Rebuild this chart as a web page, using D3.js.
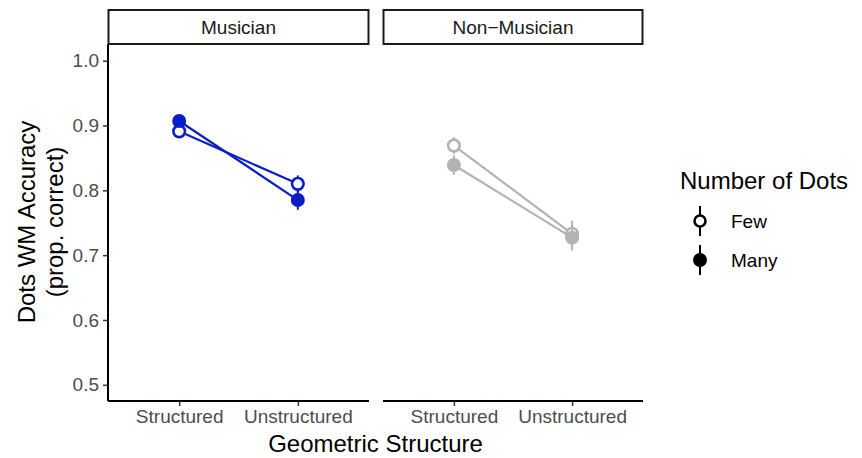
<!DOCTYPE html>
<html>
<head>
<meta charset="utf-8">
<script src="https://cdn.jsdelivr.net/npm/d3@7"></script>
<style>
  body { margin: 0; background: #fff; }
  text { font-family: "Liberation Sans", Arial, sans-serif; }
</style>
</head>
<body>
<script>
// data
var groups = ["Musician", "Non\u2212Musician"];
var structures = ["Structured", "Unstructured"];
var dotLevels = ["Few", "Many"];
var groupColors = ["#0a1ec8", "#b3b3b3"];
// means [group][structure]
var meanFew = [[0.891, 0.810], [0.869, 0.733]];
var meanMany = [[0.907, 0.785], [0.839, 0.727]];
var errFew = [[0.007, 0.013], [0.013, 0.020]];
var errMany = [[0.007, 0.015], [0.015, 0.020]];
var yTicks = [0.5, 0.6, 0.7, 0.8, 0.9, 1.0];

var W = 862, H = 458;
var svg = d3.select("body").append("svg").attr("width", W).attr("height", H);

var panels = [{x0: 108, x1: 369}, {x0: 383, x1: 643}],
    panelTop = 44, panelBottom = 401;

var y = d3.scaleLinear().domain([0.475, 1.025]).range([panelBottom, panelTop + 0.5]);

panels.forEach(function(p, gi) {
    var x = d3.scalePoint().domain(structures).range([p.x0, p.x1]).padding(0.6);
    var g = svg.append("g");

    // strip
    g.append("rect").attr("x", p.x0 + 0.5).attr("y", 10).attr("width", p.x1 - p.x0 - 1).attr("height", panelTop - 10)
        .attr("fill", "#fff").attr("stroke", "#1a1a1a").attr("stroke-width", 2);
    g.append("text").attr("x", (p.x0 + p.x1) / 2).attr("y", 34).attr("text-anchor", "middle")
        .attr("font-size", 19).attr("fill", "#1a1a1a").text(groups[gi]);

    // x axis
    var xa = g.append("g").attr("transform", "translate(0," + panelBottom + ")")
        .call(d3.axisBottom(x).tickSizeOuter(0).tickSize(5).tickPadding(4));
    xa.select(".domain").attr("d", "M" + p.x0 + ",0H" + p.x1).attr("stroke", "#000").attr("stroke-width", 2);
    xa.selectAll(".tick line").attr("stroke", "#333").attr("stroke-width", 1.5);
    xa.selectAll(".tick text").attr("font-size", 19).attr("fill", "#4d4d4d")
        .attr("font-family", "Liberation Sans, Arial, sans-serif");

    if (gi === 0) {
        var ya = g.append("g").attr("transform", "translate(" + p.x0 + ",0)")
            .call(d3.axisLeft(y).tickValues(yTicks).tickFormat(d3.format(".1f")).tickSize(5).tickSizeOuter(0).tickPadding(4));
        ya.select(".domain").attr("d", "M0," + panelTop + "V" + panelBottom).attr("stroke", "#000").attr("stroke-width", 2);
        ya.selectAll(".tick line").attr("stroke", "#333").attr("stroke-width", 1.5);
        ya.selectAll(".tick text").attr("font-size", 19).attr("fill", "#4d4d4d")
            .attr("font-family", "Liberation Sans, Arial, sans-serif");
    }

    var col = groupColors[gi];
    var series = [
        {name: "Few", mean: meanFew[gi], err: errFew[gi], fill: "#fff"},
        {name: "Many", mean: meanMany[gi], err: errMany[gi], fill: col}
    ];
    var line = d3.line().x(function(d, i) { return x(structures[i]); }).y(function(d) { return y(d); });

    series.forEach(function(s) {
        g.append("path").attr("d", line(s.mean)).attr("fill", "none").attr("stroke", col).attr("stroke-width", 2.2);
    });
    series.forEach(function(s) {
        structures.forEach(function(st, i) {
            g.append("line").attr("x1", x(st)).attr("x2", x(st))
                .attr("y1", y(s.mean[i] - s.err[i])).attr("y2", y(s.mean[i] + s.err[i]))
                .attr("stroke", col).attr("stroke-width", 2);
            g.append("circle").attr("cx", x(st)).attr("cy", y(s.mean[i]))
                .attr("r", s.name === "Few" ? 5.8 : 7)
                .attr("fill", s.fill).attr("stroke", col).attr("stroke-width", s.name === "Few" ? 2.6 : 0);
        });
    });
});

// axis titles
svg.append("text").attr("x", (108 + 643) / 2).attr("y", 452).attr("text-anchor", "middle")
    .attr("font-size", 24).attr("fill", "#000").text("Geometric Structure");
var yt = svg.append("text").attr("transform", "translate(0,222) rotate(-90)").attr("text-anchor", "middle")
    .attr("font-size", 24).attr("fill", "#000");
yt.append("tspan").attr("x", 0).attr("y", 35).text("Dots WM Accuracy");
yt.append("tspan").attr("x", 0).attr("y", 63).text("(prop. correct)");

// legend
var lg = svg.append("g");
lg.append("text").attr("x", 680).attr("y", 189).attr("font-size", 24).attr("fill", "#000").text("Number of Dots");
dotLevels.forEach(function(d, i) {
    var cy = 221 + i * 39;
    lg.append("line").attr("x1", 700).attr("x2", 700).attr("y1", cy - 15).attr("y2", cy + 15)
        .attr("stroke", "#000").attr("stroke-width", 2);
    lg.append("circle").attr("cx", 700).attr("cy", cy).attr("r", d === "Few" ? 5.5 : 7)
        .attr("fill", d === "Few" ? "#fff" : "#000").attr("stroke", "#000").attr("stroke-width", d === "Few" ? 2.6 : 0);
    lg.append("text").attr("x", 731).attr("y", cy + 7).attr("font-size", 19).attr("fill", "#000").text(d);
});
</script>
</body>
</html>
